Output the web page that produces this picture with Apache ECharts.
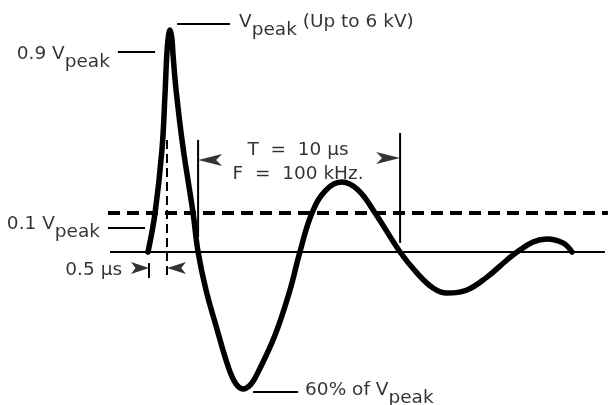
<!DOCTYPE html>
<html>
<head>
<meta charset="utf-8">
<script src="https://cdn.jsdelivr.net/npm/echarts@6/dist/echarts.min.js"></script>
<style>
  html, body { margin: 0; padding: 0; background: #fff; }
  #chart { width: 608px; height: 405px; }
</style>
</head>
<body>
<div id="chart"></div>
<script>
// ring wave: time in microseconds, voltage as a fraction of Vpeak
const timeUs = [0, 0.35, 0.69, 0.84, 0.93, 1.00, 1.09, 1.18, 1.24, 1.39, 1.73, 2.23, 2.48,
  2.87, 3.37, 3.96, 4.36, 4.70, 5.10, 5.45, 6.29, 7.03, 7.52,
  8.12, 8.81, 9.60, 10.40, 11.24, 12.48,
  13.32, 14.11, 14.80, 15.79, 16.78, 17.77, 18.27,
  19.06, 19.75, 20.54, 20.99];
const voltage = [0, 0.176, 0.459, 0.707, 0.887, 0.964, 1.0, 0.964, 0.887, 0.730, 0.473, 0.176, 0,
  -0.171, -0.333, -0.514, -0.595, -0.617, -0.595, -0.541, -0.374, -0.171, 0,
  0.176, 0.279, 0.315, 0.279, 0.176, 0,
  -0.095, -0.162, -0.185, -0.171, -0.113, -0.036, 0,
  0.045, 0.059, 0.041, 0];

const baselineUs = [-1.88, 22.62];
const thresholdLevel = 0.176;          // dashed line, as drawn
const thresholdUs = [-1.98, 22.77];
const periodUs = [2.48, 12.48];        // T = 10 us
const riseMarkUs = [0.05, 0.94];       // 0.5 us
const peakLevel = 1.027, level09 = 0.901, level01 = 0.108, troughLevel = -0.631;

const labelTexts = ['{m|V}{s|peak}{m| (Up to 6 kV)}', '{m|0.9 V}{s|peak}', '{m|0.1 V}{s|peak}',
  'T  =  10 μs\nF  =  100 kHz.', '0.5 μs', '{m|60% of V}{s|peak}'];

// canvas mapping (px per unit)
const X0 = 148, PX_US = 20.2, Y0 = 252, PX_V = 222;
const W = 608, H = 405;

const FONT = 'DejaVu Sans';
const FS = 18.5;
// subscript: taller line box for "peak" pushes it below the main text
const rich = {
  m: { fontSize: FS, fontFamily: FONT, color: '#000', lineHeight: 20, verticalAlign: 'top' },
  s: { fontSize: FS, fontFamily: FONT, color: '#000', lineHeight: 34 }
};

function seg(pts, width, dash) {
  return {
    type: 'line', data: pts, symbol: 'none', silent: true, animation: false,
    lineStyle: { color: '#000', width: width, type: dash || 'solid' }
  };
}

// arrow anchored at its tip
function arrow(t, v, dir, len) {
  return { value: [t, v], symbolRotate: dir === 'left' ? 90 : -90, symbolSize: [9, len] };
}

function lbl(t, v, text, pos, dist, off) {
  return {
    value: [t, v],
    label: {
      show: true, position: pos, distance: dist, offset: off || [0, 0],
      formatter: text, rich: rich,
      fontSize: FS, fontFamily: FONT, color: '#000', lineHeight: 24, align: pos === 'inside' ? 'center' : undefined
    }
  };
}

const chart = echarts.init(document.getElementById('chart'));
chart.setOption({
  backgroundColor: '#fff',
  animation: false,
  grid: { left: 0, right: 0, top: 0, bottom: 0 },
  xAxis: { type: 'value', min: -X0 / PX_US, max: (W - X0) / PX_US, show: false },
  yAxis: { type: 'value', min: (Y0 - H) / PX_V, max: Y0 / PX_V, show: false },
  series: [
    seg([[baselineUs[0], 0], [baselineUs[1], 0]], 2),
    seg([[thresholdUs[0], thresholdLevel], [thresholdUs[1], thresholdLevel]], 4, [12, 7]),
    seg([[periodUs[0], 0.505], [periodUs[0], 0.068]], 2),
    seg([[periodUs[1], 0.536], [periodUs[1], 0.041]], 2),
    seg([[riseMarkUs[1], 0.505], [riseMarkUs[1], -0.113]], 2, [9, 5]),
    seg([[riseMarkUs[0], -0.05], [riseMarkUs[0], -0.117]], 2),
    seg([[1.44, peakLevel], [4.06, peakLevel]], 2),
    seg([[-1.49, level09], [0.35, level09]], 2),
    seg([[-1.98, level01], [-0.15, level01]], 2),
    seg([[5.2, troughLevel], [7.43, troughLevel]], 2),
    {
      type: 'line', name: 'ring wave',
      data: timeUs.map((t, i) => [t, voltage[i]]),
      symbol: 'none', smooth: 0.4,
      lineStyle: { color: '#000', width: 5.5, cap: 'round', join: 'round' }
    },
    {
      type: 'scatter', symbol: 'arrow', itemStyle: { color: '#000' }, silent: true,
      data: [
        arrow(periodUs[0], 0.414, 'left', 24),
        arrow(periodUs[1], 0.423, 'right', 24),
        arrow(riseMarkUs[0], -0.072, 'right', 18),
        arrow(riseMarkUs[1], -0.072, 'left', 19)
      ]
    },
    {
      type: 'scatter', symbolSize: 0, silent: true,
      data: [
        lbl(4.06, peakLevel, labelTexts[0], 'right', 9, [0, 6]),
        lbl(-1.49, level09, labelTexts[1], 'left', 8, [0, 10]),
        lbl(-1.98, level01, labelTexts[2], 'left', 8, [0, 4]),
        lbl(7.43, 0.414, labelTexts[3], 'inside', 0, [0, 2]),
        lbl(-0.79, -0.072, labelTexts[4], 'left', 10, [0, 2]),
        lbl(7.43, troughLevel, labelTexts[5], 'right', 7, [0, 6])
      ]
    }
  ]
});
</script>
</body>
</html>
